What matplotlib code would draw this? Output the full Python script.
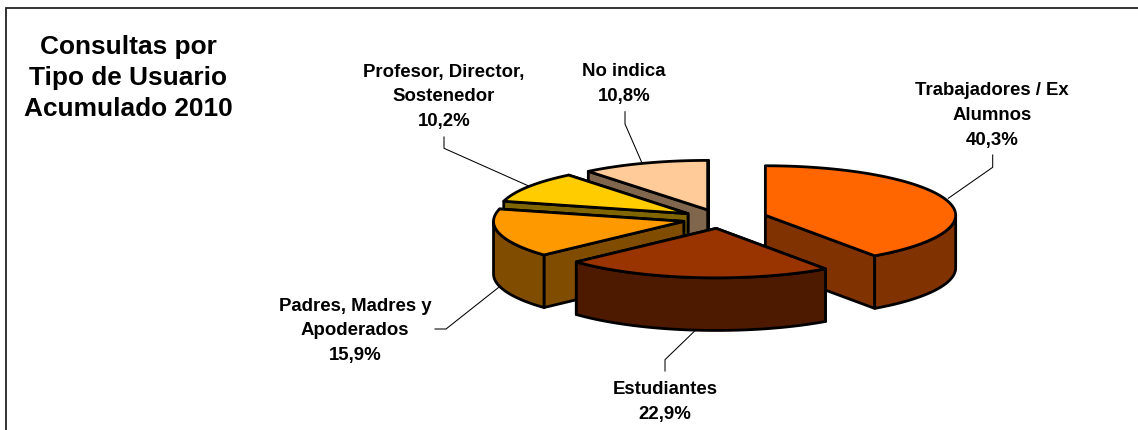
import numpy as np
import matplotlib
matplotlib.use("Agg")
import matplotlib.pyplot as plt
from matplotlib.patches import Polygon

categories = ["Trabajadores / Ex\nAlumnos", "Estudiantes", "Padres, Madres y\nApoderados",
              "Profesor, Director,\nSostenedor", "No indica"]
values = [40.3, 22.9, 15.9, 10.2, 10.8]
value_labels = ["40,3%", "22,9%", "15,9%", "10,2%", "10,8%"]
title = "Consultas por\nTipo de Usuario\nAcumulado 2010"

# style / layout
top_colors = ["#FF6600", "#993300", "#FF9900", "#FFCC00", "#FFCC99"]
wall_colors = ["#803300", "#4D1A00", "#804D00", "#806600", "#80664D"]
explode = [0.25, 0.19, 0.196, 0.20, 0.195]
draw_order = [4, 3, 2, 0, 1]
CX, CY, RX, RY, DEPTH = 720.0, 220.0, 190.3, 49.5, 52.6
LW = 2.0
label_pos = [(992, 115.5), (665, 402), (355, 331), (444, 97), (624, 84)]
leaders = [
    [(948.3, 199.3), (992.7, 168.3), (992.7, 156)],
    [(695, 331.7), (665, 360.7), (665, 372)],
    [(500, 287.3), (446, 330), (435, 330)],
    [(528, 186.7), (444, 149.3), (444, 138)],
    [(641.7, 163.3), (625, 125), (625, 112.7)],
]

plt.rcParams["font.family"] = ["Liberation Sans", "DejaVu Sans"]
fig = plt.figure(figsize=(11.38, 4.31), dpi=100, facecolor="white")
ax = fig.add_axes([0, 0, 1, 1])
ax.set_xlim(0, 1138)
ax.set_ylim(431, 0)
ax.axis("off")

# frame, running off the right and bottom edges
ax.plot([6.5, 6.5, 1138], [431, 8.5, 8.5], color="#222222", lw=1.3, solid_joinstyle="miter", zorder=1)

for pts in leaders:
    xs, ys = zip(*pts)
    ax.plot(xs, ys, color="black", lw=0.75, zorder=2)

fractions = np.array(values) / np.sum(values)
edges = np.concatenate([[0], np.cumsum(fractions) * 360.0])


def rim(ax0, ay0, deg):
    t = np.radians(deg)
    return ax0 + RX * np.sin(t), ay0 - RY * np.cos(t)


z = 3
for i in draw_order:
    t1, t2 = edges[i], edges[i + 1]
    mid = np.radians((t1 + t2) / 2)
    ax0 = CX + RX * explode[i] * np.sin(mid)
    ay0 = CY - RY * explode[i] * np.cos(mid)
    style = dict(edgecolor="black", linewidth=LW, joinstyle="round", zorder=z)
    # radial walls: the one further back first, so the nearer one covers it
    for t in sorted((t1, t2), key=lambda d: rim(ax0, ay0, d)[1]):
        x, y = rim(ax0, ay0, t)
        ax.add_patch(Polygon([(ax0, ay0), (x, y), (x, y + DEPTH), (ax0, ay0 + DEPTH)],
                             facecolor=wall_colors[i], **style))
    # outer wall (front half of the rim only)
    a, b = max(t1, 90.0), min(t2, 270.0)
    if b > a:
        x, y = rim(ax0, ay0, np.linspace(a, b, 80))
        ax.add_patch(Polygon(np.r_[np.c_[x, y], np.c_[x, y + DEPTH][::-1]],
                             facecolor=wall_colors[i], **style))
    # top face
    x, y = rim(ax0, ay0, np.linspace(t1, t2, 120))
    ax.add_patch(Polygon(np.r_[[[ax0, ay0]], np.c_[x, y]], facecolor=top_colors[i], **style))
    z += 1

for cat, val, (x, y) in zip(categories, value_labels, label_pos):
    ax.text(x, y, f"{cat}\n{val}", ha="center", va="center", fontsize=13.4, fontweight="bold",
            color="black", linespacing=1.6, zorder=20)

ax.text(128, 78, title, ha="center", va="center", fontsize=18.9, fontweight="bold",
        color="black", linespacing=1.37, zorder=20)

fig.savefig("out.png", dpi=100, facecolor="white")
